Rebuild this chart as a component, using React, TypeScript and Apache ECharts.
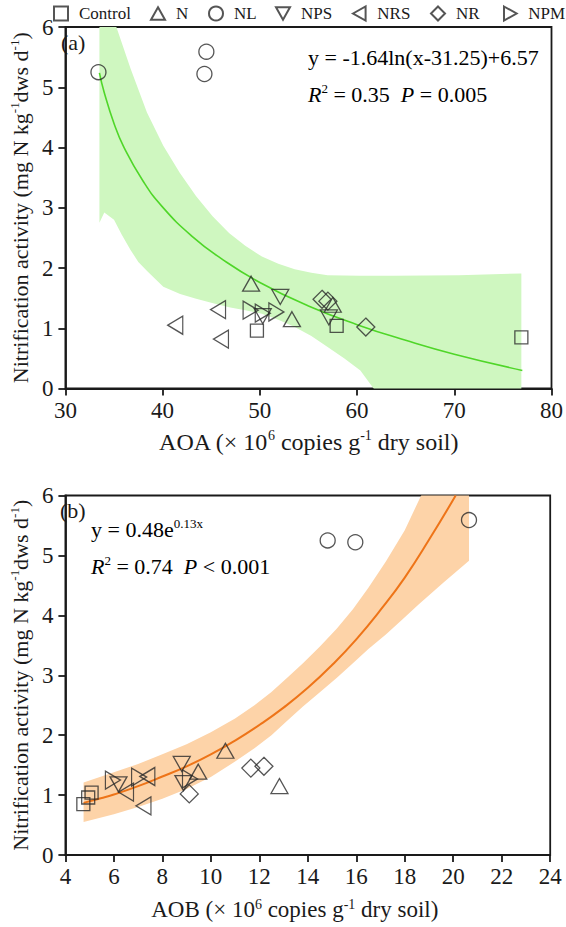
import React, { useEffect, useRef } from 'react';
import * as echarts from 'echarts';

// ---------- data ----------
const treatments = ['Control', 'N', 'NL', 'NPS', 'NRS', 'NR', 'NPM'];

// Nitrification activity (mg N kg-1 dws d-1), AOA and AOB (x10^6 copies g-1 dry soil)
const controlRate = [0.85, 0.96, 1.04];
const controlAOA = [76.9, 49.7, 57.9];
const controlAOB = [4.74, 4.94, 5.08];

const nRate = [1.74, 1.15, 1.39];
const nAOA = [49.1, 53.3, 57.5];
const nAOB = [10.6, 12.83, 9.48];

const nlRate = [5.25, 5.22, 5.59];
const nlAOA = [33.4, 44.3, 44.5];
const nlAOB = [14.82, 15.96, 20.65];

const npsRate = [1.52, 1.18, 1.2];
const npsAOA = [52.1, 57.1, 50.3];
const npsAOB = [8.8, 6.19, 8.87];

const nrsRate = [1.05, 1.31, 0.82];
const nrsAOA = [41.3, 45.7, 46.0];
const nrsAOB = [6.5, 7.38, 7.22];

const nrRate = [1.48, 1.45, 1.02];
const nrAOA = [56.4, 57.0, 60.9];
const nrAOB = [12.19, 11.65, 9.11];

const npmRate = [1.3, 1.25, 1.27];
const npmAOA = [49.05, 50.3, 51.7];
const npmAOB = [7.04, 5.96, 9.14];

// Fitted curve (a): y = -1.64ln(x-31.25)+6.57
const fitAX = [33.5, 34, 35, 36, 38, 40, 43, 46, 50, 55, 60, 65, 70, 77];
const fitAY = [5.24, 4.91, 4.4, 4.01, 3.44, 3.01, 2.53, 2.16, 1.76, 1.37, 1.06, 0.8, 0.57, 0.3];

// Confidence band (a)
const bandAUpperX = [33.5, 34.3, 35.18, 36.7, 38.39, 40.07, 41.76, 43.45, 45.14, 46.83, 48.5, 50.21, 51.9, 53.59, 55.3, 56.97, 60.3, 63.72, 70.48, 76.9];
const bandAUpperY = [9.0, 7.2, 6.03, 5.31, 4.58, 4.03, 3.58, 3.19, 2.86, 2.58, 2.37, 2.19, 2.07, 1.98, 1.92, 1.88, 1.87, 1.87, 1.88, 1.91];
const bandALowerX = [33.5, 34.0, 35.0, 35.8, 36.7, 37.5, 38.4, 40.07, 41.8, 43.45, 45.1, 46.83, 48.5, 50.21, 51.9, 53.59, 55.3, 56.97, 58.7, 60.34, 61.7, 65.0, 76.9];
const bandALowerY = [2.75, 2.92, 2.8, 2.55, 2.3, 2.1, 1.95, 1.69, 1.57, 1.49, 1.42, 1.35, 1.3, 1.24, 1.14, 1.02, 0.87, 0.69, 0.5, 0.3, 0.0, -0.72, -3.3];

// Fitted curve (b): y = 0.48e^(0.13x)
const fitBX = [4.75, 5.5, 6, 7, 8, 9, 10, 11, 12, 13, 14, 15, 16, 17, 18, 19, 20.1];
const fitBY = [0.87, 0.95, 1.01, 1.15, 1.31, 1.48, 1.68, 1.91, 2.17, 2.46, 2.79, 3.17, 3.6, 4.09, 4.63, 5.26, 6.0];

// Confidence band (b)
const bandBUpperX = [4.75, 6, 7, 8, 9, 10, 11, 11.8, 12.5, 13.15, 13.8, 14.5, 15.2, 15.86, 16.5, 17.22, 18.0, 18.71, 20.65];
const bandBUpperY = [1.21, 1.38, 1.52, 1.68, 1.85, 2.05, 2.28, 2.5, 2.72, 2.96, 3.2, 3.48, 3.78, 4.1, 4.46, 4.9, 5.42, 6.03, 8.3];
const bandBLowerX = [4.75, 6, 7, 8, 9, 10, 11, 11.8, 12.5, 13.15, 13.8, 14.51, 15.2, 15.86, 16.5, 17.22, 17.9, 18.57, 19.6, 20.65];
const bandBLowerY = [0.55, 0.68, 0.8, 0.94, 1.1, 1.3, 1.56, 1.78, 2.0, 2.24, 2.48, 2.72, 2.96, 3.2, 3.44, 3.68, 3.93, 4.18, 4.55, 4.91];

// axes
const aoaTicks = { min: 30, max: 80, interval: 10 };
const aobTicks = { min: 4, max: 24, interval: 2 };
const rateTicks = { min: 0, max: 6, interval: 1 };

// ---------- styles ----------
const FONT = 'Liberation Serif';
const INK = '#1a1a1a';

const SYM: Record<string, { symbol: string; size: number | number[] }> = {
  Control: { symbol: 'rect', size: 13 },
  N: { symbol: 'path://M5,0L10,9L0,9Z', size: [17, 15] },
  NL: { symbol: 'circle', size: 15 },
  NPS: { symbol: 'path://M0,0L10,0L5,9Z', size: [17, 15] },
  NRS: { symbol: 'path://M0,5L9,0L9,10Z', size: [15, 18] },
  NR: { symbol: 'path://M5,0L10,5L5,10L0,5Z', size: [18, 18] },
  NPM: { symbol: 'path://M0,0L9,5L0,10Z', size: [15, 18] },
};

const legendLeft = [53, 150, 208, 275, 352, 430, 503];

const makeRich = (size: number) => ({
  n: { fontFamily: FONT, fontSize: size, color: INK, lineHeight: size + 2 },
  i: { fontFamily: FONT, fontSize: size, color: INK, fontStyle: 'italic', lineHeight: size + 2 },
  sup: { fontFamily: FONT, fontSize: Math.round(size * 0.6), color: INK, verticalAlign: 'top', lineHeight: Math.round(size * 0.6) },
});
const rich = makeRich(22);

const zip = (xs: number[], ys: number[]) => xs.map((x, i) => [x, ys[i]]);

export default function App() {
  const ref = useRef<HTMLDivElement>(null);

  useEffect(() => {
    if (!ref.current) return;
    const chart = echarts.init(ref.current, null, { renderer: 'svg' });

    const groups: Record<string, { rate: number[]; aoa: number[]; aob: number[] }> = {
      Control: { rate: controlRate, aoa: controlAOA, aob: controlAOB },
      N: { rate: nRate, aoa: nAOA, aob: nAOB },
      NL: { rate: nlRate, aoa: nlAOA, aob: nlAOB },
      NPS: { rate: npsRate, aoa: npsAOA, aob: npsAOB },
      NRS: { rate: nrsRate, aoa: nrsAOA, aob: nrsAOB },
      NR: { rate: nrRate, aoa: nrAOA, aob: nrAOB },
      NPM: { rate: npmRate, aoa: npmAOA, aob: npmAOB },
    };

    const bandA = [...zip(bandAUpperX, bandAUpperY), ...zip(bandALowerX, bandALowerY).reverse()];
    const bandB = [...zip(bandBUpperX, bandBUpperY), ...zip(bandBLowerX, bandBLowerY).reverse()];

    const bandSeries = (pts: number[][], idx: number, fill: string) => ({
      type: 'custom',
      xAxisIndex: idx,
      yAxisIndex: idx,
      clip: true,
      silent: true,
      z: 1,
      data: pts,
      renderItem: (params: any, api: any) => {
        if (params.dataIndex !== 0) return null;
        return {
          type: 'polygon',
          shape: { points: pts.map((p) => api.coord(p)) },
          style: { fill, stroke: 'none' },
        };
      },
    });

    const scatterSeries: any[] = [];
    treatments.forEach((t) => {
      const g = groups[t];
      const common = {
        type: 'scatter',
        name: t,
        symbol: SYM[t].symbol,
        symbolSize: SYM[t].size,
        z: 5,
        itemStyle: { color: 'rgba(0,0,0,0)', borderColor: '#2a2a2a', borderWidth: 1.3 },
        emphasis: { disabled: true },
      };
      scatterSeries.push({ ...common, xAxisIndex: 0, yAxisIndex: 0, data: zip(g.aoa, g.rate) });
      scatterSeries.push({ ...common, xAxisIndex: 1, yAxisIndex: 1, data: zip(g.aob, g.rate) });
    });

    const axisCommon = {
      axisLine: { show: true, onZero: false, lineStyle: { color: INK, width: 1.8 } },
      axisTick: { show: true, inside: false, length: 7, lineStyle: { color: INK, width: 1.8 } },
      splitLine: { show: false },
      axisLabel: { color: INK, fontFamily: FONT, fontSize: 23 },
    };

    const yName = '{n|Nitrification activity (mg N kg}{sup|-1}{n|dws d}{sup|-1}{n|)}';

    const option: any = {
      animation: false,
      backgroundColor: '#fff',
      textStyle: { fontFamily: FONT },
      legend: treatments.map((t, i) => ({
        data: [t],
        left: legendLeft[i],
        top: 5,
        padding: 0,
        itemWidth: 14,
        itemHeight: 14,
        selectedMode: false,
        textStyle: { fontFamily: FONT, fontSize: 17, color: INK, padding: [0, 0, 0, 6] },
      })),
      grid: [
        { left: 58.5, top: 27, width: 494.5, height: 361.5, show: true, borderColor: INK, borderWidth: 1.8 },
        { left: 58.2, top: 495.5, width: 492, height: 359.5, show: true, borderColor: INK, borderWidth: 1.8 },
      ],
      xAxis: [
        {
          ...axisCommon,
          type: 'value',
          gridIndex: 0,
          ...aoaTicks,
          axisLabel: { ...axisCommon.axisLabel, margin: 10 },
          name: '{n|AOA (× 10}{sup|6}{n| copies g}{sup|-1}{n| dry soil)}',
          nameLocation: 'middle',
          nameGap: 40,
          nameTextStyle: { rich: makeRich(24) },
        },
        {
          ...axisCommon,
          type: 'value',
          gridIndex: 1,
          ...aobTicks,
          axisLabel: { ...axisCommon.axisLabel, margin: 10 },
          name: '{n|AOB (× 10}{sup|6}{n| copies g}{sup|-1}{n| dry soil)}',
          nameLocation: 'middle',
          nameGap: 42,
          nameTextStyle: { rich: makeRich(23), padding: [0, 26, 0, 0] },
        },
      ],
      yAxis: [
        {
          ...axisCommon,
          type: 'value',
          gridIndex: 0,
          ...rateTicks,
          axisLabel: { ...axisCommon.axisLabel, margin: 12 },
          name: yName,
          nameLocation: 'middle',
          nameRotate: 90,
          nameGap: 30,
          nameTextStyle: { rich },
        },
        {
          ...axisCommon,
          type: 'value',
          gridIndex: 1,
          ...rateTicks,
          axisLabel: { ...axisCommon.axisLabel, margin: 12 },
          name: yName,
          nameLocation: 'middle',
          nameRotate: 90,
          nameGap: 30,
          nameTextStyle: { rich },
        },
      ],
      graphic: [
        { type: 'text', x: 61, y: 42, style: { text: '(a)', fontFamily: FONT, fontSize: 22, fill: INK, verticalAlign: 'middle' } },
        { type: 'text', x: 308, y: 57, style: { text: '{n|y = -1.64ln(x-31.25)+6.57}', rich, verticalAlign: 'middle' } },
        { type: 'text', x: 308, y: 94, style: { text: '{i|R}{sup|2}{n| = 0.35  }{i|P}{n| = 0.005}', rich, verticalAlign: 'middle' } },
        { type: 'text', x: 60, y: 510, style: { text: '(b)', fontFamily: FONT, fontSize: 22, fill: INK, verticalAlign: 'middle' } },
        { type: 'text', x: 91, y: 529, style: { text: '{n|y = 0.48e}{sup|0.13x}', rich, verticalAlign: 'middle' } },
        { type: 'text', x: 91, y: 566, style: { text: '{i|R}{sup|2}{n| = 0.74  }{i|P}{n| < 0.001}', rich, verticalAlign: 'middle' } },
      ],
      series: [
        bandSeries(bandA, 0, '#cff7c0'),
        bandSeries(bandB, 1, '#fdd3a8'),
        {
          type: 'line',
          xAxisIndex: 0,
          yAxisIndex: 0,
          data: zip(fitAX, fitAY),
          smooth: true,
          showSymbol: false,
          silent: true,
          z: 3,
          lineStyle: { color: '#4fd628', width: 1.6 },
        },
        {
          type: 'line',
          xAxisIndex: 1,
          yAxisIndex: 1,
          data: zip(fitBX, fitBY),
          smooth: true,
          showSymbol: false,
          silent: true,
          z: 3,
          lineStyle: { color: '#ee7418', width: 2 },
        },
        ...scatterSeries,
      ],
    };

    chart.setOption(option);
    return () => chart.dispose();
  }, []);

  return (
    <div
      ref={ref}
      style={{ position: 'fixed', left: 0, top: 0, width: 566, height: 927, background: '#fff' }}
    />
  );
}
